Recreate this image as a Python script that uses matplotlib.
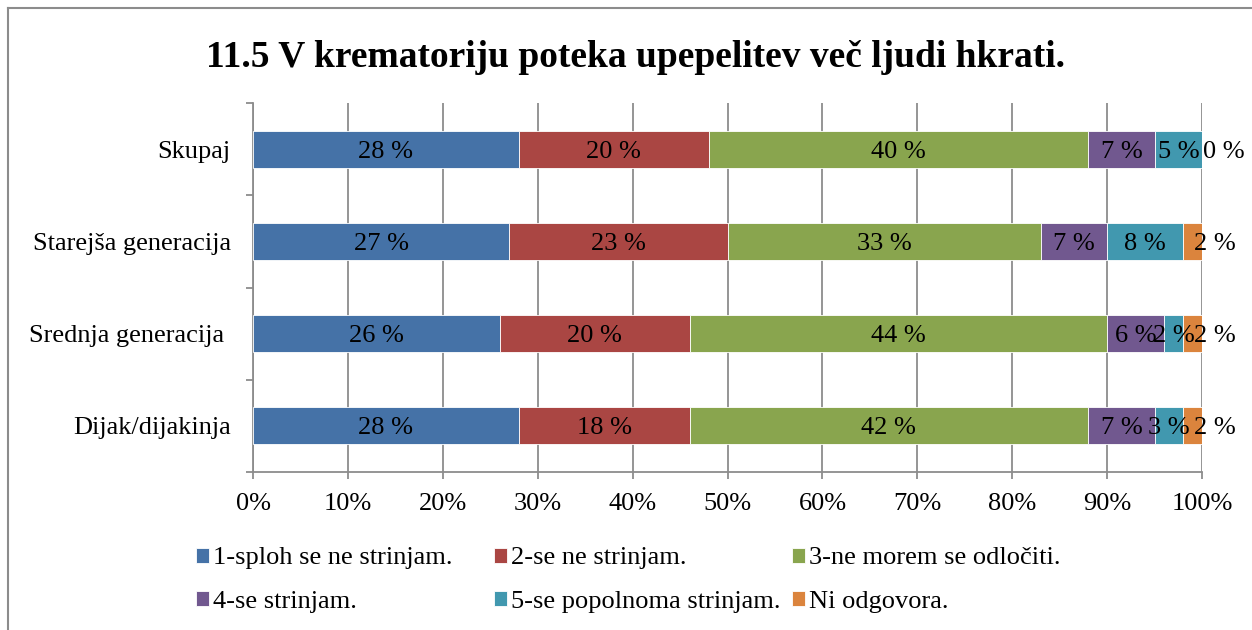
import numpy as np
import matplotlib.pyplot as plt
from matplotlib.lines import Line2D

plt.rcParams['font.family'] = ['Liberation Serif', 'DejaVu Serif']

categories = ['Skupaj', 'Starejša generacija', 'Srednja generacija ', 'Dijak/dijakinja']
series_names = ['1-sploh se ne strinjam.', '2-se ne strinjam.', '3-ne morem se odločiti.',
                '4-se strinjam.', '5-se popolnoma strinjam.', 'Ni odgovora.']
colors = ['#4572A7', '#AA4643', '#89A54E', '#71588F', '#4198AF', '#DB843D']

# percentages per category (rows follow categories, top to bottom)
s1 = [28, 27, 26, 28]
s2 = [20, 23, 20, 18]
s3 = [40, 33, 44, 42]
s4 = [7, 7, 6, 7]
s5 = [5, 8, 2, 3]
s6 = [0, 2, 2, 2]
series = [s1, s2, s3, s4, s5, s6]

xticks = np.arange(0, 101, 10)
title = '11.5 V krematoriju poteka upepelitev več ljudi hkrati.'

fig = plt.figure(figsize=(12.52, 6.3), dpi=100)
ax = fig.add_axes([0.2021, 0.2508, 0.7580, 0.5857])

grid_col = '#8c8c8c'
fs = 19
y = np.arange(len(categories))
left = np.zeros(len(categories))
bars = []
for k, (vals, col) in enumerate(zip(series, colors)):
    vals = np.array(vals, dtype=float)
    b = ax.barh(y, vals, left=left, height=0.4, color=col, edgecolor='white',
                linewidth=0.6, label=series_names[k], zorder=3)
    bars.append(b)
    for yi, (l, v) in enumerate(zip(left, vals)):
        if k == len(series) - 1:
            # last segment's label sits just outside the plot edge, like Excel
            ax.annotate(f'{int(v)} %', (l + v / 2, yi), xytext=(16, 0),
                        textcoords='offset points', ha='center', va='center_baseline',
                        fontsize=fs, zorder=4)
        else:
            ax.text(l + v / 2, yi, f'{int(v)} %', ha='center', va='center_baseline',
                    fontsize=fs, zorder=4)
    left += vals

ax.set_xlim(0, 100)
ax.set_ylim(len(categories) - 0.5, -0.5)
ax.set_xticks(xticks)
ax.set_xticklabels([f'{t}%' for t in xticks], fontsize=fs)
ax.set_yticks(y)
ax.set_yticklabels(categories, fontsize=fs)
ax.set_yticks(np.arange(-0.5, len(categories)), minor=True)
ax.tick_params(axis='y', which='major', length=0, pad=16)
ax.tick_params(axis='y', which='minor', length=5, color=grid_col, width=1.3)
ax.tick_params(axis='x', length=5, color=grid_col, width=1.3, pad=10)
ax.grid(axis='x', color=grid_col, linewidth=1.3, zorder=0)
for s in ['top', 'right']:
    ax.spines[s].set_visible(False)
for s in ['left', 'bottom']:
    ax.spines[s].set_color(grid_col)
    ax.spines[s].set_linewidth(1.3)

fig.text(635 / 1252, 0.909, title, ha='center', va='center', fontsize=27, fontweight='bold')

# legend: three columns, two rows (Excel-like fixed column positions)
col_x = [196, 494, 792]
for j, x0 in enumerate(col_x):
    idx = [j, j + 3]
    fig.legend([bars[i] for i in idx], [series_names[i] for i in idx],
               loc='center left', bbox_to_anchor=(x0 / 1252, 1 - 580 / 630),
               frameon=False, fontsize=fs, handlelength=0.5, handleheight=0.5,
               handletextpad=0.15, labelspacing=0.8, borderpad=0, borderaxespad=0)

# outer chart frame
frame_col = '#8c8c8c'
fig.add_artist(Line2D([8 / 1252, 1], [1 - 8 / 630, 1 - 8 / 630], color=frame_col,
                      lw=1.5, transform=fig.transFigure))
fig.add_artist(Line2D([8 / 1252, 8 / 1252], [0, 1 - 8 / 630], color=frame_col,
                      lw=1.5, transform=fig.transFigure))

fig.savefig('out.png', dpi=100)
